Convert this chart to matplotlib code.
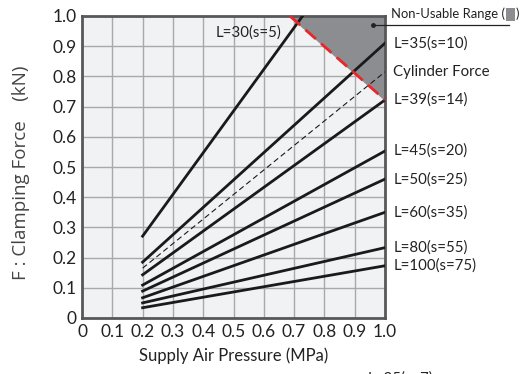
from matplotlib import pyplot as plt
from matplotlib.patches import Rectangle
import numpy as np

# data (linear lines, start/end points)
labels = ['L=35(s=10)', 'Cylinder Force', 'L=39(s=14)', 'L=45(s=20)',
          'L=50(s=25)', 'L=60(s=35)', 'L=80(s=55)', 'L=100(s=75)']
f_start = [0.185, 0.165, 0.143, 0.109, 0.089, 0.067, 0.050, 0.034]
f_end = [0.91, 0.815, 0.722, 0.553, 0.460, 0.350, 0.233, 0.173]
p_start = 0.2
p_end = 1.0

# L=30 line runs off the top of the chart
l30_p = [0.2, 0.728]
l30_f = [0.271, 1.0]

# non-usable range boundary
limit_p = [0.686, 1.0]
limit_f = [1.0, 0.722]

ticks = np.round(np.arange(0, 1.01, 0.1), 1)
tick_labels = ['0'] + ['%.1f' % t for t in ticks[1:]]

plt.rcParams['font.family'] = ['Lato', 'DejaVu Sans']

fig = plt.figure(figsize=(5.22, 3.74), dpi=100)
ax = fig.add_axes([82/522, 56/374, 303/522, 302/374])
ax.set_facecolor('#f1f2f4')

ax.set_xlim(0, 1.0)
ax.set_ylim(0, 1.0)
ax.set_xticks(ticks)
ax.set_yticks(ticks)
ax.set_xticklabels(tick_labels)
ax.set_yticklabels(tick_labels)
ax.tick_params(length=0, labelsize=12.5, colors='#222222', pad=4)
ax.grid(True, color='#a9a9ab', linewidth=1.0)
ax.set_axisbelow(True)
for s in ax.spines.values():
    s.set_color('#58585a')
    s.set_linewidth(2.0)

# shaded non-usable area
ax.fill([limit_p[0], 1.0, 1.0], [1.0, 1.0, limit_f[1]], color='#8c8d90', zorder=1.5)
ax.plot(limit_p, limit_f, color='#e8262b', linestyle=(0, (5, 2.5)), linewidth=2, zorder=4)

ax.plot(l30_p, l30_f, color='#1a1a1a', linewidth=2, zorder=3)
for lab, a, b in zip(labels, f_start, f_end):
    if lab == 'Cylinder Force':
        ax.plot([p_start, p_end], [a, b], color='#1a1a1a', linewidth=0.8,
                linestyle=(0, (5, 3)), zorder=3)
    else:
        ax.plot([p_start, p_end], [a, b], color='#1a1a1a', linewidth=2, zorder=3)
    ax.annotate(lab, xy=(1.0, b), xytext=(6, 0), textcoords='offset points',
                va='center', ha='left', fontsize=10.8, color='#222222',
                annotation_clip=False)

ax.text(0.44, 0.945, 'L=30(s=5)', fontsize=10.8, color='#222222', ha='left', va='center')

# Non-Usable Range callout
ax.plot([0.962, 1.41], [0.97, 0.97], color='#222222', linewidth=0.9,
        clip_on=False, zorder=5)
ax.plot([0.962], [0.97], marker='o', markersize=2.5, color='#222222', zorder=5)
nu = fig.text(391/522, 1 - 14/374, 'Non-Usable Range (', fontsize=9.4, color='#222222',
              va='center', ha='left')
bb = nu.get_window_extent(renderer=fig.canvas.get_renderer())
sq_x = bb.x1 + 1
fig.patches.append(Rectangle((sq_x/522, 1 - 21/374), 9/522, 13/374,
                             transform=fig.transFigure, facecolor='#8c8d90',
                             edgecolor='none'))
fig.text((sq_x + 10)/522, 1 - 14/374, ')', fontsize=9.4, color='#222222',
         va='center', ha='left')

ax.set_xlabel('Supply Air Pressure (MPa)', fontsize=12, color='#222222', labelpad=6)
fig.text(21/522, 1 - 173/374, 'F : Clamping Force    (kN)', fontsize=13.5,
         color='#444444', rotation=90, ha='center', va='center',
         family=['Open Sans', 'DejaVu Sans'])

# cut-off label at the bottom edge
fig.text(368/522, 1 - 371/374, 'L=35(s=7)', fontsize=10.8, color='#222222',
         ha='left', va='top')

fig.savefig('out.png', dpi=100)
